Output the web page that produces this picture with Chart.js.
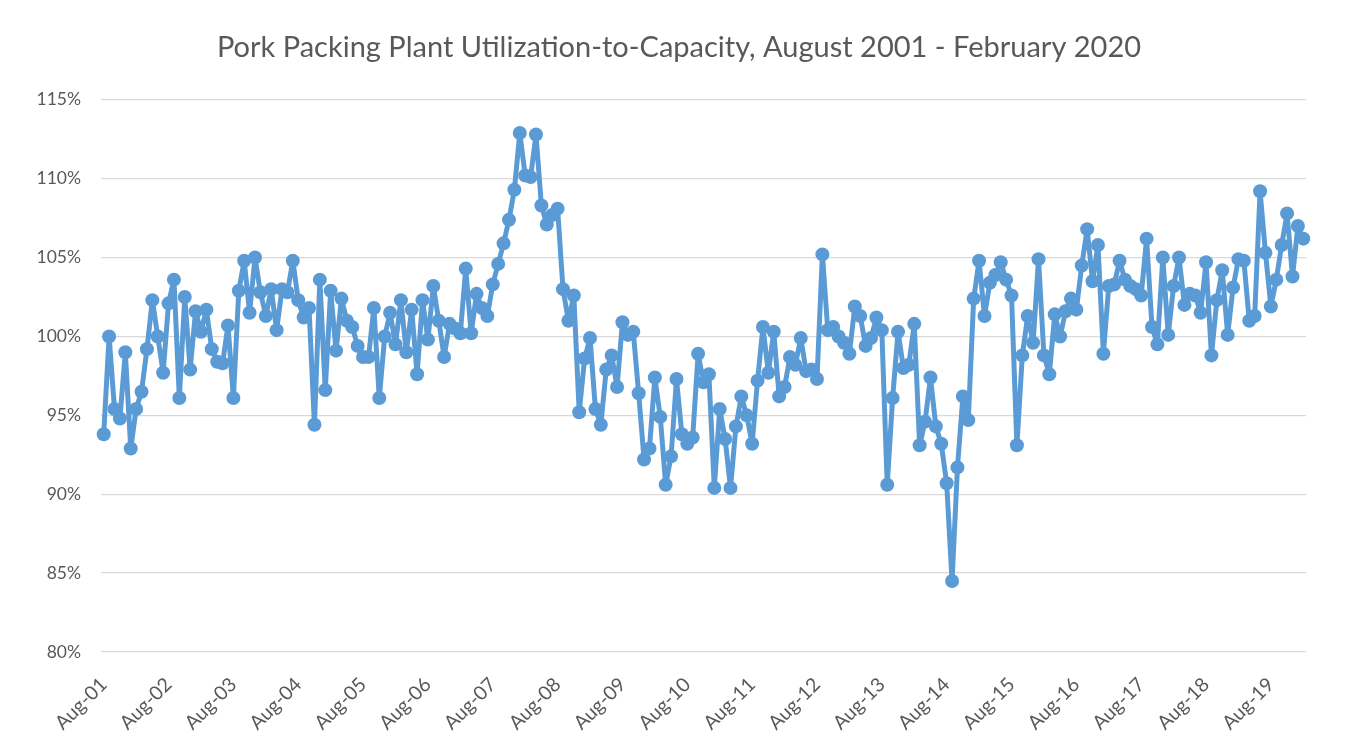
<!DOCTYPE html>
<html>
<head>
<meta charset="utf-8">
<script src="https://cdn.jsdelivr.net/npm/chart.js@4.4.1/dist/chart.umd.min.js"></script>
<style>
html, body { margin: 0; padding: 0; background: #ffffff; }
#wrap { width: 1351px; height: 750px; }
</style>
</head>
<body>
<div id="wrap"><canvas id="c" width="1351" height="750"></canvas></div>
<script>
// ---- Data (percent utilization, monthly Aug-2001 .. Feb-2020) ----
const monthNames = ['Jan','Feb','Mar','Apr','May','Jun','Jul','Aug','Sep','Oct','Nov','Dec'];
const tickLabels = ['Aug-01','Aug-02','Aug-03','Aug-04','Aug-05','Aug-06','Aug-07','Aug-08','Aug-09','Aug-10',
                    'Aug-11','Aug-12','Aug-13','Aug-14','Aug-15','Aug-16','Aug-17','Aug-18','Aug-19'];
const yTicks = [80, 85, 90, 95, 100, 105, 110, 115];

const util2001 = [93.8, 100.0, 95.4, 94.8, 99.0, 92.9, 95.4, 96.5, 99.2, 102.3, 100.0, 97.7];
const util2002 = [102.1, 103.6, 96.1, 102.5, 97.9, 101.6, 100.3, 101.7, 99.2, 98.4, 98.3, 100.7];
const util2003 = [96.1, 102.9, 104.8, 101.5, 105.0, 102.8, 101.3, 103.0, 100.4, 103.0, 102.8, 104.8];
const util2004 = [102.3, 101.2, 101.8, 94.4, 103.6, 96.6, 102.9, 99.1, 102.4, 101.0, 100.6, 99.4];
const util2005 = [98.7, 98.7, 101.8, 96.1, 100.0, 101.5, 99.5, 102.3, 99.0, 101.7, 97.6, 102.3];
const util2006 = [99.8, 103.2, 101.0, 98.7, 100.8, 100.5, 100.2, 104.3, 100.2, 102.7, 101.8, 101.3];
const util2007 = [103.3, 104.6, 105.9, 107.4, 109.3, 112.9, 110.2, 110.1, 112.8, 108.3, 107.1, 107.7];
const util2008 = [108.1, 103.0, 101.0, 102.6, 95.2, 98.6, 99.9, 95.4, 94.4, 97.9, 98.8, 96.8];
const util2009 = [100.9, 100.1, 100.3, 96.4, 92.2, 92.9, 97.4, 94.9, 90.6, 92.4, 97.3, 93.8];
const util2010 = [93.2, 93.6, 98.9, 97.1, 97.6, 90.4, 95.4, 93.5, 90.4, 94.3, 96.2, 95.0];
const util2011 = [93.2, 97.2, 100.6, 97.7, 100.3, 96.2, 96.8, 98.7, 98.2, 99.9, 97.8, 97.9];
const util2012 = [97.3, 105.2, 100.4, 100.6, 100.0, 99.6, 98.9, 101.9, 101.3, 99.4, 99.9, 101.2];
const util2013 = [100.4, 90.6, 96.1, 100.3, 98.0, 98.2, 100.8, 93.1, 94.6, 97.4, 94.3, 93.2];
const util2014 = [90.7, 84.5, 91.7, 96.2, 94.7, 102.4, 104.8, 101.3, 103.4, 103.9, 104.7, 103.6];
const util2015 = [102.6, 93.1, 98.8, 101.3, 99.6, 104.9, 98.8, 97.6, 101.4, 100.0, 101.6, 102.4];
const util2016 = [101.7, 104.5, 106.8, 103.5, 105.8, 98.9, 103.2, 103.3, 104.8, 103.6, 103.2, 103.0];
const util2017 = [102.6, 106.2, 100.6, 99.5, 105.0, 100.1, 103.2, 105.0, 102.0, 102.7, 102.6, 101.5];
const util2018 = [104.7, 98.8, 102.3, 104.2, 100.1, 103.1, 104.9, 104.8, 101.0, 101.3, 109.2, 105.3];
const util2019 = [101.9, 103.6, 105.8, 107.8, 103.8, 107.0, 106.2];

const series = [].concat(util2001, util2002, util2003, util2004, util2005, util2006, util2007,
  util2008, util2009, util2010, util2011, util2012, util2013, util2014, util2015, util2016,
  util2017, util2018, util2019);

// category labels, Aug-01 ... Feb-20
const categories = series.map((_, i) => {
  const m = (7 + i) % 12;
  const y = 2001 + Math.floor((7 + i) / 12);
  return monthNames[m] + '-' + String(y % 100).padStart(2, '0');
});

const textColor = '#595959';
const fontFamily = 'Lato, "Open Sans", sans-serif';

// nudge the title box so it is centred like the original
const titleShift = {
  id: 'titleShift',
  afterLayout(chart) {
    const t = chart.titleBlock;
    if (t) { t.left += 16; t.right += 16; }
  }
};

new Chart(document.getElementById('c'), {
  type: 'line',
  data: {
    labels: categories,
    datasets: [{
      data: series,
      borderColor: '#5B9BD5',
      backgroundColor: '#5B9BD5',
      borderWidth: 5,
      borderJoinStyle: 'round',
      borderCapStyle: 'round',
      tension: 0,
      pointRadius: 7,
      pointBorderWidth: 0,
      pointBackgroundColor: '#5B9BD5',
      fill: false
    }]
  },
  plugins: [titleShift],
  options: {
    responsive: false,
    animation: false,
    devicePixelRatio: 1,
    layout: { padding: { left: 20, right: 45, top: 0, bottom: 0 } },
    plugins: {
      legend: { display: false },
      tooltip: { enabled: false },
      title: {
        display: true,
        text: 'Pork Packing Plant Utilization-to-Capacity, August 2001 - February 2020',
        color: textColor,
        font: { family: fontFamily, size: 29, weight: 'normal' },
        padding: { top: 30, bottom: 35 }
      }
    },
    scales: {
      x: {
        type: 'category',
        offset: true,
        grid: { display: false },
        border: { display: false },
        ticks: {
          autoSkip: false,
          maxRotation: 45,
          minRotation: 45,
          color: textColor,
          font: { family: fontFamily, size: 19.5 },
          padding: 13,
          callback: function (value) {
            const lab = this.getLabelForValue(value);
            return tickLabels.includes(lab) ? lab : '';
          }
        },
        afterFit: function (s) { s.height = 98; }
      },
      y: {
        min: yTicks[0],
        max: yTicks[yTicks.length - 1],
        afterBuildTicks: function (s) { s.ticks = yTicks.map(v => ({ value: v })); },
        ticks: {
          color: textColor,
          font: { family: fontFamily, size: 17.5 },
          padding: 20,
          callback: v => v + '%'
        },
        grid: { color: '#D9D9D9', lineWidth: 1.3, drawTicks: false },
        border: { display: false },
        afterFit: function (s) { s.width = 81; }
      }
    }
  }
});
</script>
</body>
</html>
